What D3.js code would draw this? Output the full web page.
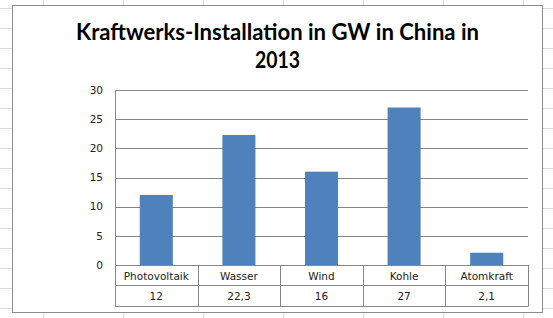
<!DOCTYPE html>
<html>
<head>
<meta charset="utf-8">
<script src="https://cdn.jsdelivr.net/npm/d3@7"></script>
<style>
  body { margin:0; background:#fff; }
  svg { display:block; }
</style>
</head>
<body>
<svg id="chart" width="553" height="318"></svg>
<script>
// data
categories=["Photovoltaik","Wasser","Wind","Kohle","Atomkraft"];
values=[12,22.3,16,27,2.1];
valueLabels=["12","22,3","16","27","2,1"];
yTicks=[0,5,10,15,20,25,30];
titleLines=["Kraftwerks-Installation in GW in China in","2013"];

svg=d3.select("#chart");

// spreadsheet grid behind the chart
sheetRows=d3.range(8,318,20);
sheetCols=d3.range(43,553,80);
svg.selectAll(".row").data(sheetRows).enter().append("line")
     .attr("x1",0).attr("x2",553)
     .attr("y1",d=>d+0.5).attr("y2",d=>d+0.5)
     .style("stroke","#dadcdd");
svg.selectAll(".col").data(sheetCols).enter().append("line")
     .attr("y1",0).attr("y2",318)
     .attr("x1",d=>d+0.5).attr("x2",d=>d+0.5)
     .style("stroke","#dadcdd");

// chart box
svg.append("rect")
     .attr("x",12.5).attr("y",5.5)
     .attr("width",530).attr("height",307)
     .style("fill","white")
     .style("stroke","#8c8c8c");

// title
titleLines.forEach(function(t,i){
     svg.append("text")
          .text(t)
          .attr("x",277.5)
          .attr("y",[40,68][i])
          .attr("text-anchor","middle")
          .attr("font-family","Lato, 'Open Sans', sans-serif")
          .attr("font-weight","bold")
          .attr("font-size","23px")
          .attr("textLength",i==0?403:45)
          .attr("lengthAdjust","spacingAndGlyphs")
          .attr("fill","#000");
});

plotLeft=115; plotRight=528; plotTop=90; zeroY=265;
xScale=d3.scaleBand().domain(categories).range([plotLeft,plotRight]).paddingInner(0).paddingOuter(0);
yScale=d3.scaleLinear().domain([0,30]).range([zeroY,plotTop]);
gray="#868686";

// gridlines
svg.append("g").selectAll("line").data(yTicks).enter().append("line")
     .attr("x1",plotLeft).attr("x2",plotRight)
     .attr("y1",d=>Math.round(yScale(d))+0.5).attr("y2",d=>Math.round(yScale(d))+0.5)
     .style("stroke",gray);

// tick labels
svg.append("g").selectAll("text").data(yTicks).enter().append("text")
     .text(d=>d)
     .attr("x",103)
     .attr("y",d=>yScale(d)+3.8)
     .attr("text-anchor","end")
     .attr("font-family","'DejaVu Sans', sans-serif")
     .attr("font-size","10.5px")
     .attr("fill","#222");

// bars
bw=xScale.bandwidth()*0.4;
svg.append("g").selectAll("rect").data(values).enter().append("rect")
     .attr("x",(d,i)=>xScale(categories[i])+(xScale.bandwidth()-bw)/2)
     .attr("y",d=>yScale(d))
     .attr("width",bw)
     .attr("height",d=>zeroY-yScale(d))
     .style("fill","#4f81bd");

// data table
row1=285.5; row2=306.5;
table=svg.append("g");
table.append("line").attr("x1",plotLeft).attr("x2",plotRight).attr("y1",zeroY+0.5).attr("y2",zeroY+0.5).style("stroke",gray);
[row1,row2].forEach(function(yy){
     table.append("line").attr("x1",plotLeft).attr("x2",plotRight).attr("y1",yy).attr("y2",yy).style("stroke",gray);
});
table.append("line").attr("x1",plotLeft+0.5).attr("x2",plotLeft+0.5).attr("y1",plotTop).attr("y2",row2).style("stroke",gray);
categories.forEach(function(c,i){
     xe=Math.round(xScale(c)+xScale.bandwidth())+0.5;
     table.append("line").attr("x1",xe).attr("x2",xe).attr("y1",zeroY).attr("y2",row2).style("stroke",gray);
     cx=xScale(c)+xScale.bandwidth()/2;
     table.append("text").text(c)
          .attr("x",cx).attr("y",279.5)
          .attr("text-anchor","middle")
          .attr("font-family","'DejaVu Sans', sans-serif")
          .attr("font-size","10.5px")
          .attr("fill","#222");
     table.append("text").text(valueLabels[i])
          .attr("x",cx).attr("y",300)
          .attr("text-anchor","middle")
          .attr("font-family","'DejaVu Sans', sans-serif")
          .attr("font-size","10.5px")
          .attr("fill","#222");
});
</script>
</body>
</html>
